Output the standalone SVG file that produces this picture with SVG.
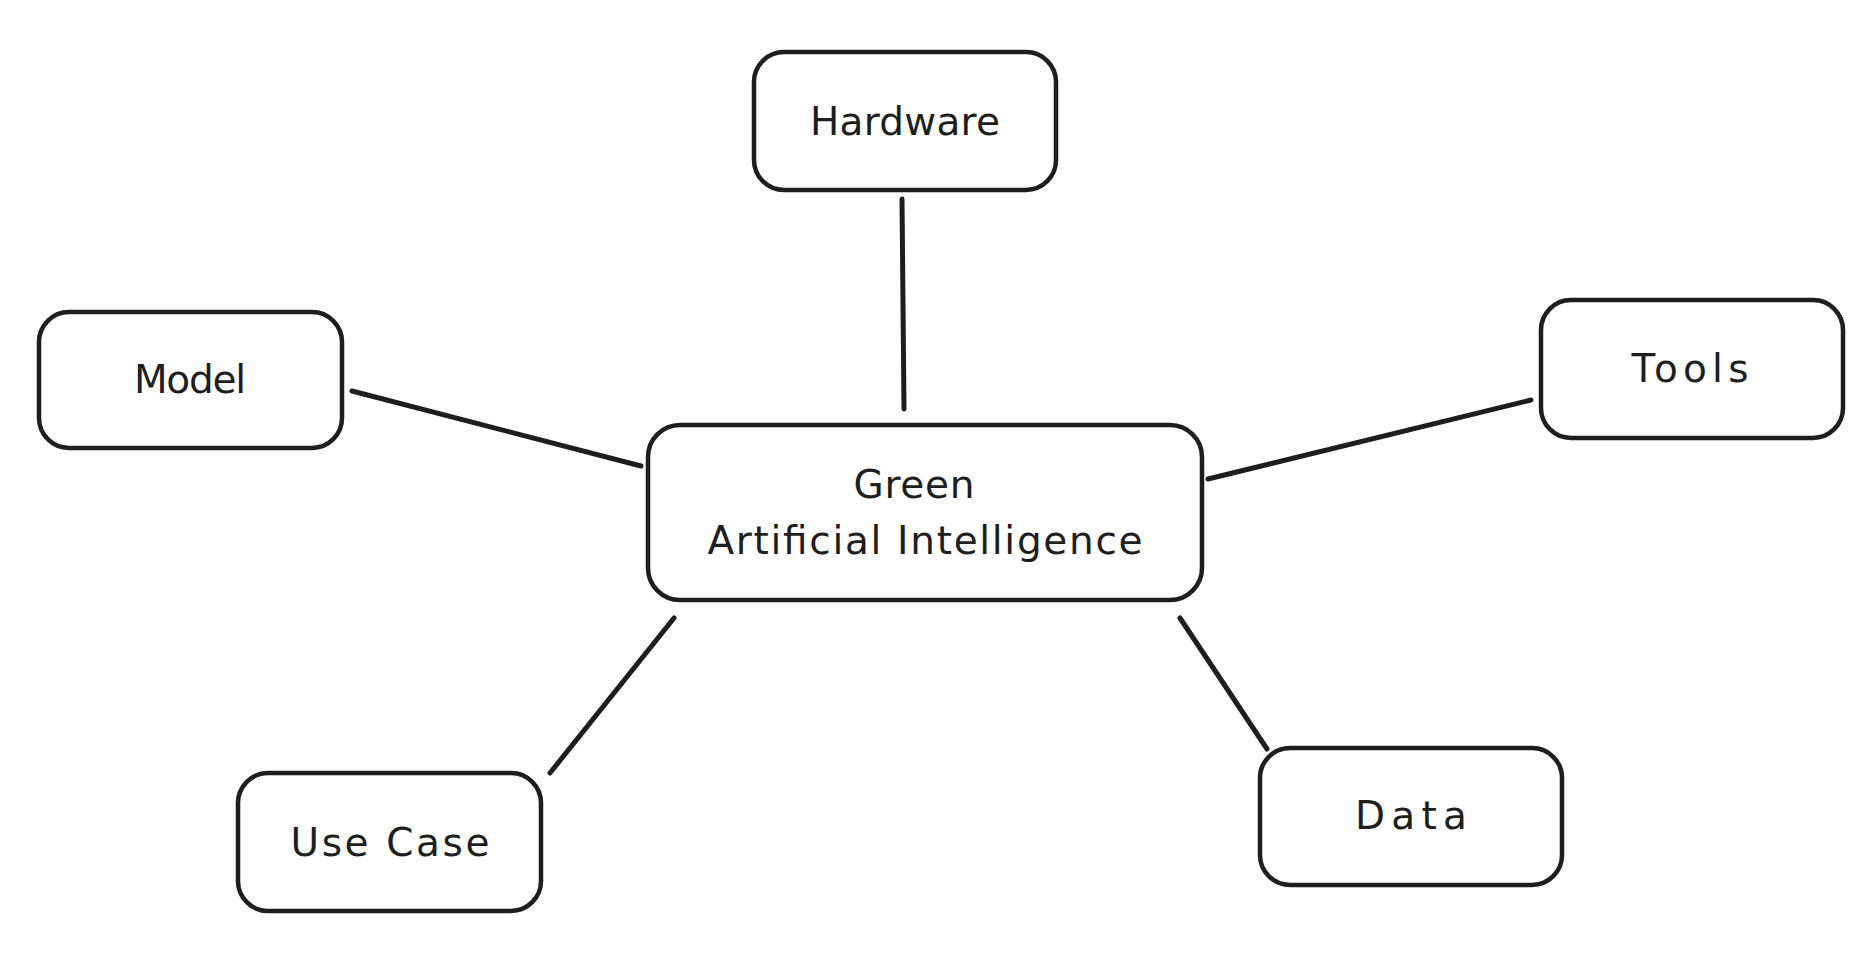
<svg xmlns="http://www.w3.org/2000/svg" width="1860" height="978" viewBox="0 0 1860 978">
<style>
.box{fill:#ffffff;stroke:#1e1e1e;stroke-width:4.5;}
.lbl{font-family:"DejaVu Sans","Liberation Sans",sans-serif;font-size:39px;fill:#1e1e1e;text-anchor:middle;}
.conn{stroke:#1e1e1e;stroke-width:5;stroke-linecap:round;fill:none;}
</style>
<rect width="1860" height="978" fill="#ffffff"/>
<g id="connectors">
<line class="conn" x1="902" y1="199" x2="904" y2="409"/>
<line class="conn" x1="352" y1="391" x2="641" y2="466"/>
<line class="conn" x1="1208" y1="479" x2="1531" y2="400"/>
<line class="conn" x1="674" y1="618" x2="550" y2="773"/>
<line class="conn" x1="1180" y1="618" x2="1267" y2="749"/>
</g>
<g id="node-hardware">
<rect class="box" x="754" y="52" width="302" height="138" rx="30"/>
<text class="lbl" x="905" y="135" textLength="190">Hardware</text>
</g>
<g id="node-model">
<rect class="box" x="39" y="312" width="303" height="136" rx="30"/>
<text class="lbl" x="190" y="393" textLength="112">Model</text>
</g>
<g id="node-tools">
<rect class="box" x="1541" y="300" width="302" height="138" rx="30"/>
<text class="lbl" x="1690" y="382" textLength="117">Tools</text>
</g>
<g id="node-center">
<rect class="box" x="648" y="425" width="554" height="175" rx="32"/>
<text class="lbl" x="914" y="498" textLength="121">Green</text>
<text class="lbl" x="925" y="554" textLength="435">Artificial Intelligence</text>
</g>
<g id="node-usecase">
<rect class="box" x="238" y="773" width="303" height="138" rx="30"/>
<text class="lbl" x="390" y="856" textLength="199">Use Case</text>
</g>
<g id="node-data">
<rect class="box" x="1260" y="748" width="302" height="137" rx="30"/>
<text class="lbl" x="1411" y="829" textLength="112">Data</text>
</g>
</svg>
